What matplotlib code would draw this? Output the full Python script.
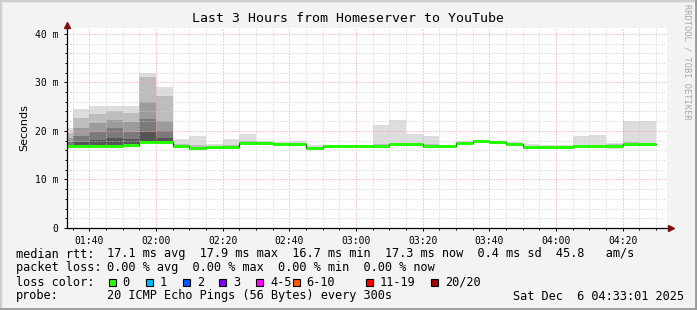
import matplotlib
matplotlib.use("Agg")
import matplotlib.pyplot as plt
from matplotlib.ticker import MultipleLocator, FuncFormatter
from matplotlib.patches import Rectangle

W, H = 697, 310

# 5-minute rounds (start time of each round)
bar_start = ["01:30", "01:35", "01:40", "01:45", "01:50", "01:55", "02:00", "02:05",
             "02:10", "02:15", "02:20", "02:25", "02:30", "02:35", "02:40", "02:45",
             "02:50", "02:55", "03:00", "03:05", "03:10", "03:15", "03:20", "03:25",
             "03:30", "03:35", "03:40", "03:45", "03:50", "03:55", "04:00", "04:05",
             "04:10", "04:15", "04:20", "04:25"]

# median rtt in ms
median_rtt = [16.8, 16.9, 16.9, 16.9, 17.1, 17.7, 17.7, 16.8,
              16.5, 16.7, 16.7, 17.6, 17.6, 17.4, 17.4, 16.5,
              16.8, 16.8, 16.8, 16.8, 17.4, 17.4, 16.8, 16.8,
              17.5, 17.9, 17.7, 17.3, 16.6, 16.6, 16.6, 16.8,
              16.8, 16.8, 17.3, 17.3]

# lowest ping of each round in ms
rtt_min = [16.4, 16.4, 16.5, 16.6, 16.7, 17.3, 17.3, 16.5,
           16.3, 16.5, 16.5, 17.3, 17.3, 17.1, 17.1, 16.3,
           16.5, 16.5, 16.5, 16.5, 17.1, 17.1, 16.5, 16.5,
           17.2, 17.6, 17.4, 17.0, 16.3, 16.3, 16.3, 16.5,
           16.5, 16.3, 16.9, 17.0]

# smoke: upper edges of the bands, outermost first (ms)
smoke_hi = [
    [20.5, 19.6, 18.5, 17.8, 17.2],
    [24.6, 22.6, 20.6, 19.0, 17.8],
    [25.1, 23.4, 21.6, 19.8, 18.2],
    [25.1, 24.0, 22.3, 20.6, 18.5],
    [25.1, 23.6, 21.8, 19.8, 18.3],
    [32.0, 31.2, 26.0, 22.5, 19.8],
    [29.1, 27.2, 22.0, 20.0, 18.6],
    [18.4, 17.3],
    [18.9, 17.1],
    [17.4],
    [18.4, 17.2],
    [19.4, 18.0],
    [17.9],
    [17.7],
    [17.9],
    [17.0],
    [17.0],
    [17.0],
    [17.2],
    [21.3, 17.3],
    [22.3, 17.6],
    [19.4, 17.6],
    [18.9, 17.3],
    [17.0],
    [17.9],
    [18.2],
    [18.0],
    [17.7],
    [17.4],
    [17.0],
    [17.1],
    [18.9, 17.2],
    [19.1, 17.2],
    [17.6, 17.4],
    [22.0, 17.8],
    [22.0, 17.6],
]
smoke_shades = ["#dddddd", "#bdbdbd", "#9c9c9c", "#7a7a7a", "#555555"]

loss_labels = ["0", "1", "2", "3", "4-5", "6-10", "11-19", "20/20"]
loss_colors = ["#26ff00", "#00b8ff", "#0059ff", "#7e00ff", "#ff00ff",
               "#ff5500", "#ff0000", "#a10000"]
loss_box_x = [108.7, 145.7, 182.7, 219.3, 256.0, 292.7, 365.7, 430.7]

t0 = [int(s[:2]) * 60 + int(s[3:]) for s in bar_start]
x_start, x_end = 93.3, 273.3
y_top = 41.2

mono = "DejaVu Sans Mono"

fig = plt.figure(figsize=(W / 100, H / 100), dpi=100, facecolor="#f3f3f3")


def fx(x):
    return x / W


def fy(y):
    return 1 - y / H


ax = fig.add_axes([fx(67), fy(228), 600 / W, 200 / H])
ax.set_facecolor("white")

# smoke
for j, shade in enumerate(smoke_shades):
    xs, bots, hts = [], [], []
    for i, lv in enumerate(smoke_hi):
        if j < len(lv):
            lo = rtt_min[i] if j == 0 else median_rtt[i]
            xs.append(t0[i])
            bots.append(lo)
            hts.append(lv[j] - lo)
    ax.bar(xs, hts, bottom=bots, width=5, align="edge", color=shade,
           linewidth=0, zorder=2)

# median line: dark step line plus loss-coloured segments
step_x = t0 + [t0[-1] + 5]
step_y = median_rtt + [median_rtt[-1]]
ax.step(step_x, step_y, where="post", color="#202020", lw=0.9, zorder=4)
ax.hlines(median_rtt, t0, [t + 5 for t in t0], color=loss_colors[0],
          lw=2.2, zorder=5)

ax.set_xlim(x_start, x_end)
ax.set_ylim(0, y_top)

ax.xaxis.set_major_locator(MultipleLocator(20))
ax.xaxis.set_minor_locator(MultipleLocator(5))
ax.yaxis.set_major_locator(MultipleLocator(10))
ax.yaxis.set_minor_locator(MultipleLocator(2))
ax.xaxis.set_major_formatter(FuncFormatter(lambda v, p: f"{int(v) // 60:02d}:{int(v) % 60:02d}"))
ax.yaxis.set_major_formatter(FuncFormatter(lambda v, p: "0" if v == 0 else f"{v:.0f} m"))

ax.grid(which="minor", color="#cccccc", linestyle=(0, (1, 2)), lw=0.72, zorder=3)
ax.grid(which="major", color="#f29a9a", linestyle=(0, (1, 2)), lw=0.72, zorder=3)
ax.set_axisbelow(False)

for s in ["top", "right"]:
    ax.spines[s].set_visible(False)
for s in ["left", "bottom"]:
    ax.spines[s].set_color("black")
    ax.spines[s].set_linewidth(0.9)
    ax.spines[s].set_zorder(6)

ax.tick_params(which="both", direction="out", color="black", width=0.7,
               labelsize=7, pad=3.5)
ax.tick_params(which="major", length=2.5)
ax.tick_params(which="minor", length=1.5)
for lab in ax.get_xticklabels() + ax.get_yticklabels():
    lab.set_fontfamily(mono)

# axis arrows
ax.plot([x_start], [y_top + 0.6], marker="^", ms=4, color="#7f1010",
        clip_on=False, zorder=7)
ax.plot([x_end + 1.3], [0], marker=">", ms=4, color="#7f1010",
        clip_on=False, zorder=7)

ax.set_ylabel("Seconds", fontsize=8, labelpad=4)

# title and watermark
fig.text(fx(348), fy(19), "Last 3 Hours from Homeserver to YouTube",
         family=mono, fontsize=9.5, ha="center", va="center")
fig.text(fx(687), fy(4), "RRDTOOL / TOBI OETIKER", family=mono, fontsize=6.2,
         color="#a8a8a8", rotation=270, ha="center", va="top")

# legend block
leg = dict(family=mono, fontsize=8.6, va="center", ha="left")
fig.text(fx(16), fy(254), "median rtt:", **leg)
fig.text(fx(107), fy(254),
         "17.1 ms avg  17.9 ms max  16.7 ms min  17.3 ms now  0.4 ms sd  45.8   am/s", **leg)
fig.text(fx(16), fy(268), "packet loss:", **leg)
fig.text(fx(107), fy(268), "0.00 % avg  0.00 % max  0.00 % min  0.00 % now", **leg)
fig.text(fx(16), fy(282), "loss color:", **leg)
for bx, lab, col in zip(loss_box_x, loss_labels, loss_colors):
    fig.patches.append(Rectangle((fx(bx), fy(285.5)), 7 / W, 7 / H,
                                 transform=fig.transFigure, facecolor=col,
                                 edgecolor="black", lw=0.8))
    fig.text(fx(bx + 14), fy(282), lab, **leg)
fig.text(fx(16), fy(296), "probe:", **leg)
fig.text(fx(107), fy(296), "20 ICMP Echo Pings (56 Bytes) every 300s", **leg)
fig.text(fx(513), fy(296), "Sat Dec  6 04:33:01 2025", **leg)

# 3d frame
fig.patches.append(Rectangle((0, 0), 1, 1, transform=fig.transFigure, fill=False,
                             edgecolor="#cfcfcf", lw=2.5))
fig.lines.append(plt.Line2D([0, 1], [0.002, 0.002], transform=fig.transFigure,
                            color="#9a9a9a", lw=2))
fig.lines.append(plt.Line2D([0.999, 0.999], [0, 1], transform=fig.transFigure,
                            color="#9a9a9a", lw=2))

fig.savefig("out.png", dpi=100, facecolor=fig.get_facecolor())
